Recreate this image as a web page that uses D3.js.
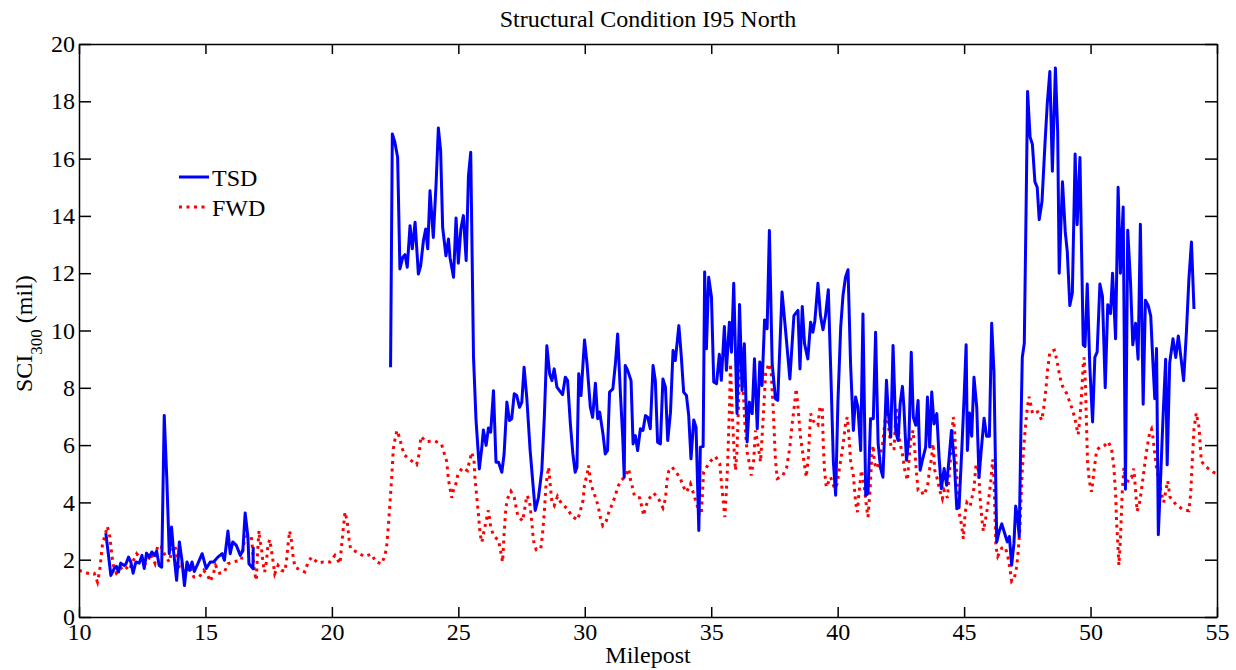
<!DOCTYPE html>
<meta charset="utf-8">
<style>
body { margin: 0; background: #fff; }
svg { display: block; font-family: "Liberation Serif", "Times New Roman", serif; }
.axis text { font-size: 24px; fill: #000; font-family: "Liberation Serif", "Times New Roman", serif; }
.axis line, .axis path { stroke: #000; stroke-width: 1.5px; }
</style>
<svg id="chart" width="1236" height="670"></svg>
<script src="https://cdn.jsdelivr.net/npm/d3@7"></script>
<script>
// Structural condition index along I95 North (TSD vs FWD)
var xTicks = [10, 15, 20, 25, 30, 35, 40, 45, 50, 55];
var yTicks = [0, 2, 4, 6, 8, 10, 12, 14, 16, 18, 20];

// TSD: two stretches, null marks the gap
var tsdMile = [11.06,11.19,11.26,11.39,11.48,11.56,11.65,11.79,11.85,11.96,12.05,12.14,12.25,12.38,12.49,12.58,12.67,12.78,12.88,12.98,13.07,13.17,13.27,13.37,13.47,13.57,13.66,13.73,13.86,13.97,14.07,14.17,14.27,14.37,14.47,14.56,14.70,14.87,15.03,15.19,15.32,15.49,15.66,15.75,15.89,15.98,16.08,16.22,16.38,16.48,16.57,16.68,16.72,16.88,16.89,
  19.5,
  22.32,22.39,22.49,22.60,22.69,22.80,22.89,22.98,23.09,23.18,23.29,23.42,23.51,23.62,23.71,23.79,23.88,24.01,24.12,24.21,24.30,24.38,24.51,24.61,24.67,24.81,24.91,25.00,25.10,25.20,25.31,25.40,25.49,25.60,25.70,25.83,25.93,25.99,26.10,26.19,26.28,26.39,26.49,26.59,26.72,26.81,26.92,27.02,27.11,27.21,27.31,27.42,27.51,27.60,27.71,27.84,27.95,28.04,28.17,28.30,28.40,28.50,28.61,28.70,28.79,28.90,29.00,29.12,29.23,29.32,29.43,29.53,29.62,29.69,29.76,29.85,29.99,30.09,30.22,30.31,30.42,30.51,30.59,30.72,30.81,30.90,30.98,31.11,31.21,31.30,31.41,31.50,31.56,31.60,31.70,31.83,31.91,32.00,32.09,32.20,32.30,32.40,32.49,32.59,32.70,32.79,32.88,32.99,33.09,33.19,33.28,33.39,33.49,33.58,33.72,33.81,33.91,34.02,34.11,34.20,34.31,34.40,34.51,34.57,
  34.68,34.74,34.81,34.90,35.01,35.10,35.21,35.32,35.40,35.52,35.60,35.72,35.80,35.89,36.02,36.12,36.22,36.31,36.42,36.51,36.62,36.71,36.82,36.92,37.01,37.11,37.21,37.30,37.41,37.54,37.63,37.80,37.94,38.11,38.27,38.43,38.51,38.60,38.69,38.82,38.93,39.02,39.10,39.22,39.32,39.42,39.52,39.63,39.75,39.83,39.92,40.01,40.12,40.21,40.31,40.41,40.51,40.62,40.71,40.80,40.91,41.00,41.11,41.20,41.30,41.41,41.50,41.60,41.70,41.79,41.86,41.93,42.00,42.10,42.19,42.30,42.39,42.47,42.56,42.62,42.72,42.82,42.91,42.99,43.09,43.18,43.26,43.35,43.48,43.55,43.64,43.72,43.81,43.92,44.01,44.10,44.21,44.31,44.41,44.50,44.61,44.71,44.80,44.91,45.00,
  45.08,45.13,45.21,45.30,45.39,45.50,45.59,45.67,45.79,45.89,46.00,46.09,46.18,46.29,46.39,46.49,46.62,46.71,46.79,46.88,46.97,47.04,47.11,47.18,47.25,47.30,47.38,47.45,47.51,47.61,47.70,47.80,47.89,47.97,48.08,48.20,48.29,48.39,48.49,48.61,48.70,48.76,48.89,49.00,49.08,49.18,49.28,49.39,49.47,49.58,49.71,49.78,49.87,49.97,50.08,50.17,50.26,50.37,50.47,50.58,50.68,50.79,50.87,50.99,51.09,51.18,51.29,51.38,51.47,51.58,51.67,51.78,51.88,51.97,52.08,52.17,52.28,52.38,52.47,52.54,52.61,52.68,52.78,52.87,52.97,53.03,53.13,53.26,53.37,53.47,53.59,53.68,53.79,53.89,53.99,54.09];
var tsdSCI = [2.93,1.98,1.45,1.69,1.77,1.57,1.88,1.80,1.84,2.09,1.92,1.53,1.92,1.88,2.15,1.69,2.23,2.09,2.27,2.15,2.30,1.80,1.74,7.03,4.88,2.21,3.14,2.38,1.28,2.62,1.98,1.10,1.92,1.63,1.92,1.59,1.86,2.21,1.69,1.92,1.92,2.09,2.21,1.98,3.00,2.21,2.62,2.50,2.15,2.33,3.63,2.79,1.86,1.69,2.44,
  null,
  8.72,16.86,16.57,16.04,12.15,12.55,12.65,12.21,13.66,12.85,13.78,11.97,12.26,13.14,13.54,12.85,14.88,13.25,15.11,17.07,16.28,13.60,12.61,13.19,12.55,11.86,13.93,12.35,13.54,14.01,12.44,15.40,16.22,9.07,6.86,5.17,5.93,6.53,5.99,6.60,6.45,7.90,5.40,5.40,5.05,5.69,7.50,6.86,6.92,7.79,7.73,7.32,7.50,8.72,7.61,5.81,4.65,3.72,4.18,5.11,6.97,9.47,8.49,8.25,8.66,8.02,7.90,7.76,8.37,8.25,6.74,5.69,5.05,5.23,8.49,7.73,9.67,8.83,7.32,6.97,8.16,6.92,7.15,6.39,5.69,5.81,7.85,7.96,8.83,9.88,7.79,6.28,4.88,8.78,8.60,8.25,6.04,6.33,5.81,6.57,6.51,7.03,6.97,6.57,8.78,8.25,6.10,6.04,8.31,8.02,6.16,7.15,9.30,8.95,10.17,9.18,7.85,7.73,7.03,5.52,6.88,6.62,3.02,5.93,
  5.95,12.04,9.36,11.86,11.16,8.20,8.14,9.17,8.26,10.14,8.61,10.29,9.24,11.65,7.10,10.91,7.91,9.54,6.11,7.50,7.10,9.01,6.57,8.90,8.08,10.37,10.06,13.49,8.84,7.62,7.56,11.34,10.00,8.31,10.52,10.70,8.66,10.84,9.54,9.01,10.29,9.94,10.35,11.65,10.52,10.03,10.52,11.42,7.91,5.41,4.25,7.50,10.12,11.22,11.86,12.12,8.84,6.51,7.68,7.33,5.81,10.58,4.25,4.31,6.92,6.92,9.94,6.05,5.18,4.88,6.51,8.26,7.15,6.28,9.48,6.45,6.16,7.44,8.05,7.33,5.47,6.28,9.24,6.98,6.69,7.56,5.12,5.47,5.93,7.68,5.93,7.85,6.74,7.10,5.58,4.48,5.18,4.60,5.58,6.51,5.47,3.78,3.84,5.87,7.68,
  9.50,5.81,7.12,6.31,8.37,7.31,4.87,5.75,6.94,6.31,6.31,10.25,8.56,2.62,3.00,3.25,2.87,2.62,2.81,1.81,2.56,3.87,3.50,2.81,6.75,9.06,9.56,14.18,18.34,16.75,16.50,15.19,15.00,13.87,14.50,16.56,17.94,19.04,15.56,19.16,16.94,12.00,15.19,13.44,12.75,10.87,11.31,16.16,13.69,16.04,9.50,9.44,11.62,8.75,6.81,9.06,9.25,11.62,11.19,8.00,10.90,10.59,12.00,9.71,15.00,12.00,14.31,4.46,13.50,11.69,9.50,10.25,9.00,13.71,7.43,11.06,10.87,10.50,8.81,7.62,9.37,2.87,5.06,7.06,9.00,5.31,8.87,9.71,9.06,9.81,8.94,8.25,9.94,11.81,13.09,10.75];

// FWD: continuous dotted series
var fwdMile = [10.00,10.33,10.60,10.73,10.82,10.93,11.03,11.12,11.22,11.30,11.36,11.48,11.65,11.79,11.98,12.12,12.28,12.45,12.54,12.71,12.84,13.00,13.11,13.24,13.37,13.57,13.64,13.77,13.84,13.93,14.03,14.23,14.39,14.54,14.76,14.93,15.09,15.19,15.32,15.40,15.56,15.75,15.89,16.15,16.42,16.52,16.65,16.81,16.85,16.88,16.94,17.01,17.07,17.12,17.14,17.21,17.28,17.34,17.41,17.47,17.54,17.65,17.74,17.87,18.00,18.14,18.20,18.27,18.33,18.40,18.47,18.54,18.73,18.93,19.06,19.20,19.46,19.66,19.92,20.12,20.32,20.38,20.45,20.52,20.61,20.68,20.74,20.98,21.27,21.57,21.74,21.97,22.10,22.17,22.23,22.30,22.37,22.43,22.50,22.57,22.67,
  22.76,22.86,23.09,23.35,23.45,23.52,23.72,24.08,24.34,24.44,24.54,24.61,24.74,24.81,24.91,24.98,25.16,25.36,25.43,25.53,25.62,25.66,25.73,25.80,25.86,25.93,26.02,26.10,26.19,26.28,26.39,26.59,26.68,26.75,26.81,26.88,26.94,27.08,27.21,27.27,27.35,27.54,27.60,27.71,27.81,27.91,27.97,28.08,28.26,28.33,28.40,28.47,28.57,28.63,28.70,28.79,28.92,29.10,29.32,29.49,29.72,29.82,29.93,29.99,30.09,30.15,30.22,30.32,30.46,30.55,30.61,30.71,30.85,30.94,31.08,31.21,31.30,31.43,31.60,31.74,31.80,31.89,31.97,32.17,32.26,32.33,32.40,32.53,32.73,32.92,33.09,33.19,33.25,33.32,33.45,33.62,33.78,33.91,34.02,34.18,34.28,34.38,34.47,
  34.53,34.61,34.70,34.90,35.00,35.17,35.34,35.40,35.47,35.54,35.60,35.65,35.73,35.76,35.83,35.89,35.96,36.02,36.09,36.13,36.20,36.26,36.33,36.42,36.51,36.58,36.68,36.75,36.84,36.95,37.05,37.15,37.28,37.37,37.45,37.54,37.61,37.81,37.98,38.11,38.20,38.29,38.36,38.43,38.53,38.66,38.76,38.84,38.93,39.03,39.13,39.22,39.30,39.39,39.43,39.48,39.55,39.72,39.88,39.98,40.12,40.22,40.31,40.38,40.45,40.51,40.62,40.71,40.78,40.84,40.94,41.04,41.15,41.20,41.28,41.34,41.40,41.46,41.57,41.66,41.73,41.79,41.86,41.94,42.03,42.12,42.23,42.32,42.39,42.47,42.56,42.65,42.76,42.82,42.89,42.98,43.05,43.11,43.18,43.31,43.39,43.55,43.64,43.71,43.77,43.84,43.92,44.05,44.14,44.21,44.34,44.45,44.50,44.57,44.63,44.67,44.74,44.80,44.89,44.97,
  45.04,45.11,45.24,45.39,45.47,45.57,45.63,45.70,45.76,45.89,46.00,46.07,46.13,46.18,46.22,46.26,46.33,46.49,46.62,46.71,46.79,46.88,46.99,47.08,47.14,47.21,47.25,47.30,47.37,47.43,47.50,47.57,47.71,47.91,48.07,48.16,48.24,48.30,48.39,48.57,48.66,48.79,48.89,49.05,49.18,49.29,49.38,49.45,49.51,49.58,49.64,49.71,49.75,49.80,49.84,49.88,49.95,50.04,50.13,50.24,50.37,50.57,50.70,50.83,50.92,50.99,51.03,51.09,51.12,51.18,51.25,51.32,51.42,51.53,51.62,51.71,51.78,51.84,51.95,52.05,52.14,52.24,52.34,52.41,52.47,52.54,52.61,52.70,52.80,52.89,53.05,53.14,53.39,53.66,53.89,53.96,54.03,54.09,54.18,54.29,54.38,54.55,54.84,55.00];
var fwdSCI = [1.63,1.53,1.53,1.22,1.63,2.56,2.85,3.16,2.79,2.15,1.80,1.53,1.69,1.80,1.63,1.92,2.21,2.03,1.80,1.92,2.21,1.88,2.50,2.47,2.21,1.92,2.21,2.50,2.33,1.69,1.92,1.63,1.74,1.40,1.40,1.63,1.45,1.24,1.53,1.80,1.53,1.57,1.86,1.94,1.98,2.58,2.85,2.81,2.50,2.15,1.57,1.28,2.38,3.02,2.73,2.44,1.86,1.57,1.92,2.50,2.70,2.09,1.51,1.80,1.63,1.59,1.92,2.56,3.00,2.67,2.09,1.74,1.65,1.57,1.92,2.09,1.88,1.92,1.92,2.15,1.86,2.47,3.08,3.66,3.31,2.70,2.38,2.27,2.12,2.19,1.92,1.86,2.15,2.50,3.14,4.01,4.94,5.87,6.22,6.51,6.28,
  5.95,5.66,5.49,5.32,5.69,6.30,6.12,6.14,6.02,5.72,5.43,4.79,4.16,4.44,4.67,4.97,5.21,5.11,5.40,5.75,5.46,4.82,4.18,3.54,2.90,2.61,3.02,3.35,3.72,3.14,2.85,2.67,2.26,1.92,2.90,3.81,4.12,4.39,4.18,3.89,3.54,3.35,3.63,4.24,4.07,3.28,2.67,2.35,2.38,2.90,3.66,4.65,5.23,4.65,4.01,3.89,4.21,3.93,3.78,3.51,3.39,3.69,4.07,4.63,4.97,5.29,4.76,4.42,4.09,3.78,3.49,3.19,3.35,3.63,3.93,4.24,4.53,4.76,4.90,5.17,4.82,4.51,4.21,4.16,3.83,3.54,3.83,4.12,4.32,4.12,3.81,4.12,4.76,5.09,5.23,5.05,4.83,4.53,4.36,4.65,4.36,4.07,3.81,
  3.55,3.61,5.06,5.35,5.47,5.60,5.35,4.71,4.09,3.49,4.42,5.35,7.56,8.84,7.10,6.05,5.12,5.81,7.68,9.77,9.24,8.02,6.74,5.76,5.35,4.94,5.47,6.51,6.05,5.41,6.86,8.49,8.84,8.55,7.27,5.47,4.83,4.91,5.21,5.93,6.74,7.39,7.97,7.33,6.28,5.47,4.88,5.58,7.10,6.86,6.71,6.69,7.33,7.33,6.05,5.12,4.53,4.88,4.48,4.65,5.47,6.05,6.74,6.98,6.28,5.47,4.94,4.01,3.66,4.31,5.12,4.65,3.78,3.49,4.42,5.47,5.99,5.35,5.18,5.53,5.87,6.11,6.74,7.21,6.51,5.87,5.87,7.33,6.63,6.05,5.70,5.14,4.77,5.47,6.22,6.51,5.81,5.12,4.42,4.42,4.25,4.53,5.18,5.53,6.05,5.12,4.88,4.38,4.13,4.42,4.16,5.35,6.16,6.98,6.45,5.58,4.53,3.66,3.26,2.73,
  3.62,4.00,3.87,4.50,5.31,5.12,4.19,3.44,3.00,3.62,4.31,4.87,5.50,4.87,3.56,2.44,2.12,2.41,2.44,2.19,1.81,1.25,1.37,1.75,2.31,3.12,4.12,5.12,6.06,6.69,7.31,7.69,7.09,7.16,6.87,7.37,8.00,8.62,9.25,9.31,9.00,8.37,8.06,7.81,7.50,7.21,6.94,6.62,6.37,6.94,7.69,8.81,9.06,8.06,6.69,5.44,4.75,4.37,5.06,5.81,5.94,6.00,6.12,5.87,5.25,4.31,3.31,2.37,1.81,2.69,4.31,5.21,4.62,4.87,4.87,5.18,4.44,3.69,4.04,4.69,5.31,5.94,6.44,6.56,6.25,5.69,5.18,4.81,4.31,4.00,4.75,4.19,3.91,3.75,3.71,4.31,5.56,6.56,7.12,6.62,5.44,5.25,5.06,5.00];

var legendNames = ["TSD", "FWD"];

var svg = d3.select("#chart");
var margin = {top: 44, right: 19, bottom: 53, left: 79};
var width = +svg.attr("width") - margin.left - margin.right;
var height = +svg.attr("height") - margin.top - margin.bottom;
var g = svg.append("g").attr("transform", "translate(" + margin.left + "," + margin.top + ")");

var x = d3.scaleLinear().domain([10, 55]).range([0, width]);
var y = d3.scaleLinear().domain([0, 20]).range([height, 0]);

var tsd = tsdMile.map(function(m, i) { return {m: m, v: tsdSCI[i]}; });
var fwd = fwdMile.map(function(m, i) { return {m: m, v: fwdSCI[i]}; });

var line = d3.line()
    .defined(function(d) { return d.v != null; })
    .x(function(d) { return x(d.m); })
    .y(function(d) { return y(d.v); });

// lines under the box
g.append("path").datum(fwd)
    .attr("d", line)
    .attr("fill", "none")
    .attr("stroke", "#ff0000")
    .attr("stroke-width", 3)
    .attr("stroke-dasharray", "3,4.5");

g.append("path").datum(tsd)
    .attr("d", line)
    .attr("fill", "none")
    .attr("stroke", "#0000ff")
    .attr("stroke-width", 3)
    .attr("stroke-linejoin", "round");

// MATLAB style box, ticks inward on all sides
g.append("g").attr("class", "axis")
    .attr("transform", "translate(0," + height + ")")
    .call(d3.axisBottom(x).tickValues(xTicks).tickSizeInner(-10).tickSizeOuter(0).tickPadding(6));

g.append("g").attr("class", "axis")
    .call(d3.axisTop(x).tickValues(xTicks).tickSizeInner(-10).tickSizeOuter(0).tickFormat(""));

g.append("g").attr("class", "axis")
    .call(d3.axisLeft(y).tickValues(yTicks).tickSizeInner(-12).tickSizeOuter(0).tickPadding(4));

g.append("g").attr("class", "axis")
    .attr("transform", "translate(" + width + ",0)")
    .call(d3.axisRight(y).tickValues(yTicks).tickSizeInner(-12).tickSizeOuter(0).tickFormat(""));

// title and axis labels
svg.append("text")
    .attr("x", margin.left + width / 2)
    .attr("y", 27)
    .attr("text-anchor", "middle")
    .attr("font-size", 24)
    .text("Structural Condition I95 North");

svg.append("text")
    .attr("x", margin.left + width / 2)
    .attr("y", 663)
    .attr("text-anchor", "middle")
    .attr("font-size", 24)
    .text("Milepost");

var ylab = svg.append("text")
    .attr("transform", "translate(32,392) rotate(-90)")
    .attr("font-size", 24);
ylab.append("tspan").text("SCI");
ylab.append("tspan").attr("font-size", 17).attr("dy", 10).text("300");
ylab.append("tspan").attr("dy", -10).text(" (mil)");

// legend
var legend = svg.append("g")
  .selectAll("g")
  .data(legendNames)
  .enter().append("g")
    .attr("transform", function(d, i) { return "translate(179," + (177 + i * 30) + ")"; });

legend.append("line")
    .attr("x1", 0).attr("x2", 30)
    .attr("stroke", function(d) { return d == "TSD" ? "#0000ff" : "#ff0000"; })
    .attr("stroke-width", 3)
    .attr("stroke-dasharray", function(d) { return d == "TSD" ? null : "3,4.5"; });

legend.append("text")
    .attr("x", 33)
    .attr("y", 9)
    .attr("font-size", 24)
    .text(function(d) { return d; });
</script>
